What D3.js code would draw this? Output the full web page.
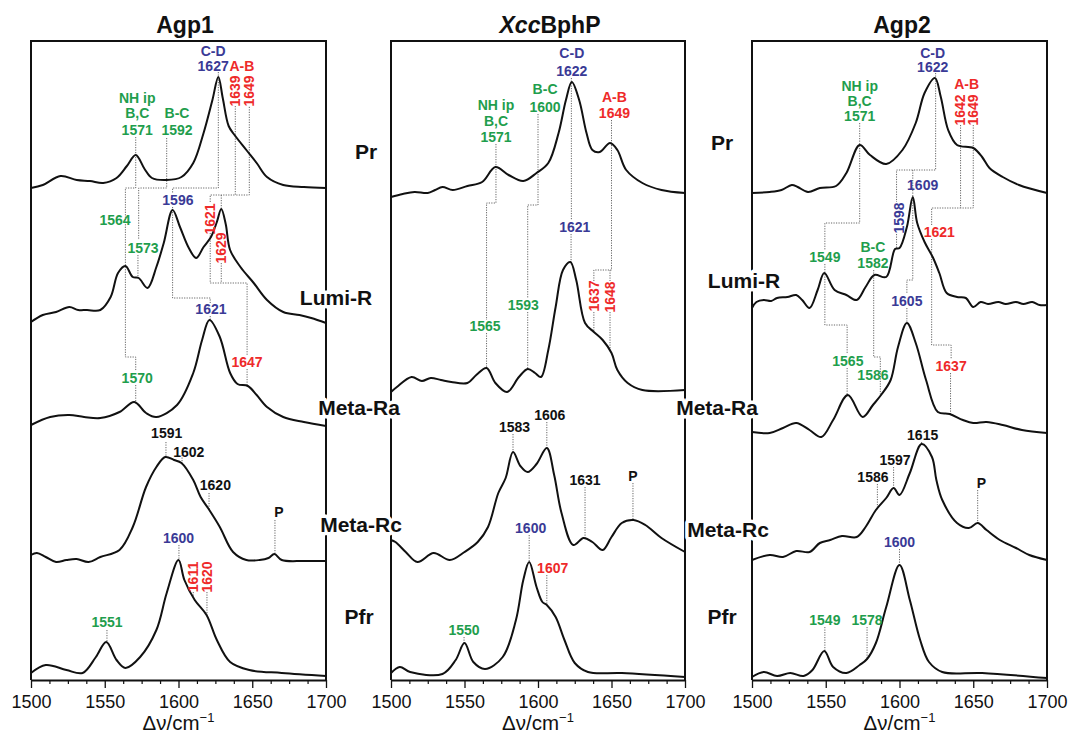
<!DOCTYPE html>
<html><head><meta charset="utf-8">
<script src="https://cdn.jsdelivr.net/npm/d3@7"></script>
<style>body{margin:0;background:#fff}svg{display:block}</style>
</head><body>
<svg id="chart" width="1069" height="734"></svg>
<script>
// ---------------- DATA ----------------
const stateNames = ['Pr','Lumi-R','Meta-Ra','Meta-Rc','Pfr'];
const majorTicks = [1500,1550,1600,1650,1700];
const minorTicks = [1512.5,1525,1537.5,1562.5,1575,1587.5,1612.5,1625,1637.5,1662.5,1675,1687.5];

// spectra: [wavenumber, intensity (a.u.)]
const agp1Pr = [[1500,0],[1508,3],[1520,12],[1531,8],[1540,7],[1549,5],[1558,10],[1565,22],[1571,33],[1577,19],[1582,10],[1592,8],[1602,11],[1610,25],[1617,55],[1623,88],[1627,111],[1630,90],[1634,62],[1638,53],[1646,38],[1653,25],[1660,11],[1671,3],[1685,1],[1700,0]];
const agp1LumiR = [[1500,0],[1508,7],[1517,10],[1526,15],[1532,12],[1538,12],[1547,12],[1554,25],[1559,49],[1564,56],[1569,45],[1573,44],[1579,34],[1585,55],[1590,79],[1596,112],[1601,95],[1607,74],[1612,64],[1617,75],[1622,85],[1626,100],[1629,113],[1632,98],[1635,72],[1642,55],[1651,39],[1660,22],[1671,10],[1682,7],[1690,4],[1700,-1]];
const agp1MetaRa = [[1500,0],[1513,8],[1526,10],[1536,8],[1547,7],[1560,13],[1570,23],[1578,12],[1585,8],[1599,20],[1610,52],[1616,85],[1621,105],[1628,88],[1635,52],[1640,41],[1647,39],[1653,30],[1660,18],[1671,8],[1685,3],[1700,-1]];
const agp1MetaRc = [[1500,6],[1504,8],[1510,4],[1517,-1],[1524,1],[1531,2],[1539,-1],[1547,4],[1560,11],[1569,34],[1578,74],[1585,94],[1591,104],[1597,101],[1602,98],[1610,81],[1615,64],[1620,53],[1628,34],[1637,9],[1646,1],[1655,1],[1661,3],[1665,7],[1670,1],[1685,0],[1700,0]];
const agp1Pfr = [[1500,3],[1510,11],[1524,6],[1535,3],[1544,19],[1551,34],[1558,16],[1564,8],[1574,19],[1585,46],[1592,83],[1600,116],[1604,96],[1611,76],[1619,61],[1626,36],[1635,14],[1648,6],[1670,3],[1700,0]];

const xccPr = [[1500,-2],[1508,1],[1516,3],[1525,2],[1530,5],[1535,8],[1542,5],[1552,9],[1562,13],[1571,28],[1580,20],[1590,14],[1599,22],[1607,32],[1614,62],[1619,95],[1623,113],[1628,95],[1633,62],[1637,45],[1642,43],[1649,52],[1654,45],[1660,25],[1671,12],[1684,5],[1700,2]];
const xccLumiR = [[1500,0],[1504,5],[1514,15],[1521,11],[1527,14],[1534,12],[1541,10],[1552,9],[1558,17],[1565,24],[1571,9],[1579,0],[1587,15],[1593,23],[1598,19],[1602,15],[1607,42],[1612,85],[1617,122],[1622,130],[1626,112],[1632,69],[1638,60],[1644,52],[1650,39],[1654,22],[1661,9],[1671,2],[1700,2]];
const xccMetaRc = [[1500,20],[1503,18],[1510,8],[1518,-2],[1529,7],[1540,0],[1550,8],[1559,18],[1566,33],[1573,67],[1578,82],[1583,108],[1588,94],[1593,88],[1599,96],[1606,112],[1611,85],[1616,47],[1624,15],[1631,22],[1637,18],[1644,10],[1650,23],[1657,37],[1665,40],[1673,35],[1684,22],[1700,8]];
const xccPfr = [[1500,2],[1506,8],[1513,3],[1535,1],[1544,15],[1550,32],[1556,13],[1564,6],[1576,18],[1585,55],[1590,95],[1594,113],[1599,88],[1603,73],[1606,70],[1612,58],[1618,35],[1625,12],[1634,3],[1657,2],[1700,-2]];

const agp2Pr = [[1500,0],[1512,1],[1520,3],[1527,8],[1531,6],[1538,1],[1546,5],[1557,7],[1564,20],[1573,48],[1580,38],[1591,29],[1602,43],[1611,70],[1617,100],[1624,115],[1628,96],[1633,63],[1639,48],[1650,45],[1656,36],[1661,25],[1670,16],[1681,8],[1700,0]];
const agp2LumiR = [[1500,-3],[1503,3],[1508,5],[1513,4],[1517,7],[1524,8],[1530,10],[1534,5],[1539,-3],[1544.5,15],[1549,32],[1556,15],[1564,10],[1571,5],[1577,18],[1583,30],[1591,28],[1597,56],[1600,57],[1605,78],[1609,108],[1612,82],[1617,63],[1622.5,48],[1627,32],[1632,12],[1639,8],[1645,7],[1650,-2],[1655,3],[1660,1],[1667,3],[1672,1],[1679,3],[1684,1],[1690,3],[1695,0],[1700,0]];
const agp2MetaRa = [[1500,1],[1512,0],[1521,5],[1530,10],[1539,3],[1547,-4],[1555,13],[1565,38],[1575,16],[1582,28],[1588,39],[1594,53],[1599,86],[1605,110],[1611,90],[1618,53],[1626,21],[1634,19],[1643,13],[1650,10],[1659,11],[1670,8],[1683,3],[1700,0]];
const agp2MetaRc = [[1500,0],[1512,5],[1521,3],[1530,9],[1539,8],[1546,17],[1553,20],[1561,24],[1571,23],[1577,33],[1584,50],[1591,62],[1596,72],[1600,65],[1607,87],[1615,116],[1622,103],[1625,80],[1629,60],[1639,37],[1647,32],[1653,37],[1659,30],[1668,20],[1679,12],[1688,5],[1700,0]];
const agp2Pfr = [[1500,0],[1508,5],[1517,1],[1526,4],[1535,1],[1541,7],[1549,26],[1555,10],[1564,4],[1573,12],[1578,18],[1584,34],[1591,70],[1600,112],[1607,77],[1614,37],[1620,15],[1629,5],[1656,4],[1700,-1]];

// vertical stacking offsets (a.u.)
const agp1Offsets = [492,358,255,119,4];
const xccOffsets = [485,288,120,5];
const agp2Offsets = [487,375,247,120,3];

// band labels: [text, wavenumber, level (a.u.), colour key, rotated]
const agp1Labels = [
 ['NH ip',1572,582,'g'],['B,C',1572,567,'g'],['1571',1572,550,'g'],
 ['B-C',1599,567,'g'],['1592',1599,550,'g'],
 ['C-D',1623.5,629,'b'],['1627',1623.5,614,'b'],
 ['A-B',1643,614,'r'],['1639',1638.5,589,'r',1],['1649',1648,589,'r',1],
 ['1564',1557,460,'g'],['1573',1576,432,'g'],['1596',1599.6,480,'b'],['1621',1621.5,461,'r',1],['1629',1629,432,'r',1],
 ['1570',1572,302,'g'],['1621',1622,371,'b'],['1647',1646.5,318,'r'],
 ['1591',1592,247,'k'],['1602',1607,228,'k'],['1620',1625,195,'k'],['P',1668,168,'k'],
 ['1600',1600,142,'b'],['1611',1610,103,'r',1],['1620',1619.3,103,'r',1],['1551',1551.5,58,'g']
];
const xccLabels = [
 ['NH ip',1571.4,575,'g'],['B,C',1571.4,559,'g'],['1571',1571.4,543,'g'],
 ['B-C',1604.8,591,'g'],['1600',1604.8,573,'g'],
 ['C-D',1623,627,'b'],['1622',1623,609,'b'],
 ['A-B',1652,583,'r'],['1649',1652,567,'r'],
 ['1621',1625,453,'b'],['1565',1564,354,'g'],['1593',1590,375,'g'],['1637',1638,384,'r',1],['1648',1649,383,'r',1],
 ['1583',1584,253,'k'],['1606',1608,265,'k'],['1631',1632,200,'k'],['P',1664.6,204,'k'],
 ['1600',1595,152,'b'],['1607',1610,112,'r'],['1550',1549.7,50,'g']
];
const agp2Labels = [
 ['NH ip',1573,594,'g'],['B,C',1573,579,'g'],['1571',1573,564,'g'],
 ['C-D',1622.5,627,'b'],['1622',1622.5,613,'b'],
 ['A-B',1645.5,596,'r'],['1642',1641.4,570,'r',1],['1649',1650,570,'r',1],
 ['1609',1615.7,495,'b'],['1598',1599.5,462,'b',1],['1621',1627,448,'r'],
 ['1549',1549.4,423,'g'],['B-C',1582,433,'g'],['1582',1582,417,'g'],
 ['1605',1605,379,'b'],['1565',1565,319,'g'],['1586',1582,305,'g'],['1637',1635,314,'r'],
 ['1615',1615.7,245,'k'],['1597',1597,220,'k'],['1586',1582,203,'k'],['P',1655.6,197,'k'],
 ['1600',1600,138,'b'],['1549',1549.4,60,'g'],['1578',1578,60,'g']
];

// leader lines from a label down to a spectrum: [spectrum index, wavenumber, start level]
const agp1Leaders = [[1,1572.5,425],[2,1571,295],[2,1621.5,364],[2,1646.5,311],
 [3,1591.5,238],[3,1602.4,225],[3,1620.7,187],[3,1665.4,160],
 [4,1600.3,135],[4,1610,88],[4,1619.3,88],[4,1551.5,50]];
const xccLeaders = [[1,1565,347],[1,1593,368],[1,1622.5,446],[1,1638,368],[1,1649,368],
 [2,1583,246],[2,1606,258],[2,1632,193],[2,1664.6,197],
 [3,1594,145],[3,1606,105],[3,1549.7,43]];
const agp2Leaders = [[1,1598,446],[2,1564.5,312],[2,1605,372],[2,1634.6,307],
 [3,1615,238],[3,1596,213],[3,1585,196],[3,1653,190],
 [4,1600,131],[4,1549.4,53],[4,1578,53]];

// correlation connectors between states: [wavenumber, level] vertices
const agp1Links = [
 [[1571,543],[1571,492],[1564,492],[1564,323],[1571,323],[1571,309]],
 [[1592,542],[1592,492],[1573,492],[1573,440]],
 [[1627,608],[1627,492],[1596,492],[1596,487]],
 [[1596,473],[1596,382],[1621.5,382],[1621.5,377]],
 [[1638.5,574],[1638.5,485],[1648,485],[1648,574]],
 [[1621.5,478],[1621.5,485],[1638.5,485]],
 [[1629,485],[1629,471]],
 [[1621.5,447],[1621.5,397],[1646.5,397],[1646.5,325]],
 [[1629,417],[1629,397]]
];
const xccLinks = [
 [[1571.4,536],[1571.4,477],[1565,477],[1565,360]],
 [[1600,566],[1600,475],[1593,475],[1593,382]],
 [[1622.7,602],[1622.7,460]],
 [[1650,560],[1650,410],[1638,410],[1638,399]],
 [[1649,410],[1649,399]]
];
const agp2Links = [
 [[1573,557],[1573,457],[1549.4,457],[1549.4,430]],
 [[1549.4,416],[1549.4,355],[1564.5,355],[1564.5,326]],
 [[1624.5,607],[1624.5,510],[1598,510],[1598,478]],
 [[1609,510],[1609,400],[1605,400],[1605,386]],
 [[1641.4,555],[1641.4,472],[1650,472],[1650,555]],
 [[1621.8,455],[1621.8,472],[1641.4,472]],
 [[1621.8,441],[1621.8,335],[1635,335],[1635,321]],
 [[1582.5,410],[1582.5,323],[1587,323],[1587,285]]
];

// ---------------- DRAWING ----------------
const svg = d3.select('#chart');
const FONT = '"Liberation Sans", Arial, Helvetica, sans-serif';
const COL = {g:'#1f9e4d', b:'#3a3a96', r:'#ee2a2a', k:'#111111'};
const yTop = 41, yBot = 680;
const y = d3.scaleLinear().domain([0,639]).range([yBot,yTop]);

const panels = [
 {title:[['Agp1','normal']], titleX:185, left:31, right:326,
  spectra:[agp1Pr,agp1LumiR,agp1MetaRa,agp1MetaRc,agp1Pfr], offsets:agp1Offsets,
  labels:agp1Labels, leaders:agp1Leaders, links:agp1Links},
 {title:[['Xcc','italic'],['BphP','normal']], titleX:550, left:391, right:685,
  spectra:[xccPr,xccLumiR,xccMetaRc,xccPfr], offsets:xccOffsets,
  labels:xccLabels, leaders:xccLeaders, links:xccLinks},
 {title:[['Agp2','normal']], titleX:902, left:752, right:1047,
  spectra:[agp2Pr,agp2LumiR,agp2MetaRa,agp2MetaRc,agp2Pfr], offsets:agp2Offsets,
  labels:agp2Labels, leaders:agp2Leaders, links:agp2Links}
];

function valueAt(spec, wn){
  for(let i=0;i<spec.length-1;i++){
    const a=spec[i], b=spec[i+1];
    if(wn>=a[0] && wn<=b[0]){ const t=(wn-a[0])/(b[0]-a[0]); return a[1]+t*(b[1]-a[1]); }
  }
  return spec[spec.length-1][1];
}

panels.forEach(p=>{
  const x = d3.scaleLinear().domain([1500,1700]).range([p.left,p.right]);
  const g = svg.append('g');

  // title
  const t = g.append('text').attr('x',p.titleX).attr('y',33).attr('text-anchor','middle')
    .attr('font-family',FONT).attr('font-weight','bold').attr('font-size',23).attr('fill','#111');
  p.title.forEach(s=>t.append('tspan').attr('font-style',s[1]).text(s[0]));

  // frame
  g.append('path').attr('d',`M${x(1500)},${yBot}V${yTop}H${x(1700)}V${yBot}`)
    .attr('fill','none').attr('stroke','#111').attr('stroke-width',2);

  // axes
  const ax = g.append('g').attr('transform',`translate(0,${yBot})`)
    .call(d3.axisBottom(x).tickValues(majorTicks).tickSize(8).tickSizeOuter(0).tickPadding(7).tickFormat(d3.format('d')));
  ax.select('.domain').attr('stroke','#111').attr('stroke-width',2);
  ax.selectAll('.tick line').attr('stroke','#111').attr('stroke-width',1.3);
  ax.selectAll('.tick text').attr('font-family',FONT).attr('font-size',18).attr('fill','#111');
  const mx = g.append('g').attr('transform',`translate(0,${yBot})`)
    .call(d3.axisBottom(x).tickValues(minorTicks).tickSize(4).tickSizeOuter(0).tickFormat(''));
  mx.select('.domain').remove();
  mx.selectAll('.tick line').attr('stroke','#111').attr('stroke-width',1.2);

  const at = g.append('text').attr('x',(p.left+p.right)/2).attr('y',730).attr('text-anchor','middle')
    .attr('font-family',FONT).attr('font-size',20.5).attr('fill','#111');
  at.append('tspan').text('\u0394\u03BD/cm');
  at.append('tspan').attr('dy',-8).attr('font-size',13).text('\u22121');

  // connectors & leaders (dotted)
  const dot = d3.line().x(d=>x(d[0])).y(d=>y(d[1]));
  p.links.forEach(l=>{
    g.append('path').attr('d',dot(l)).attr('fill','none').attr('stroke','#666')
      .attr('stroke-width',1).attr('stroke-dasharray','1.2,1.3');
  });
  p.leaders.forEach(l=>{
    const [si,wn,from] = l;
    const to = valueAt(p.spectra[si],wn)+p.offsets[si];
    g.append('path').attr('d',dot([[wn,from],[wn,to]])).attr('fill','none').attr('stroke','#666')
      .attr('stroke-width',1).attr('stroke-dasharray','1.2,1.3');
  });

  // spectra
  const line = d3.line().curve(d3.curveCatmullRom.alpha(0.5));
  p.spectra.forEach((s,i)=>{
    line.x(d=>x(d[0])).y(d=>y(d[1]+p.offsets[i]));
    g.append('path').attr('d',line(s)).attr('fill','none').attr('stroke','#111')
      .attr('stroke-width',2).attr('stroke-linejoin','round');
  });

  // band labels
  p.labels.forEach(l=>{
    const [txt,wn,lv,c,rot] = l;
    const tx = g.append('text').attr('font-family',FONT).attr('font-weight','bold')
      .attr('font-size',14).attr('fill',COL[c]).attr('text-anchor','middle').attr('dy','0.35em').text(txt);
    if(rot) tx.attr('transform',`translate(${x(wn)},${y(lv)}) rotate(-90)`);
    else tx.attr('x',x(wn)).attr('y',y(lv));
  });
});

// state labels between panels (white halo interrupts the frames)
const rowPos1 = [[366,152],[336,298],[359,408],[361,525],[359,617]];
const rowPos2 = [[722,143],[744,281],[717,408],[728,530],[722,617]];
[rowPos1,rowPos2].forEach(pos=>{
  stateNames.forEach((n,i)=>{
    svg.append('text').attr('x',pos[i][0]).attr('y',pos[i][1]).attr('dy','0.35em')
      .attr('text-anchor','middle').attr('font-family',FONT).attr('font-weight','bold')
      .attr('font-size',21).attr('fill','#111').attr('stroke','#fff').attr('stroke-width',7)
      .attr('paint-order','stroke').attr('stroke-linejoin','round').text(n);
  });
});
</script>
</body></html>
